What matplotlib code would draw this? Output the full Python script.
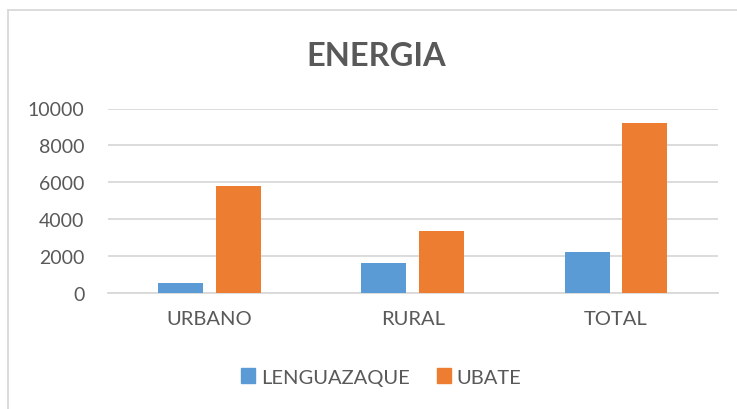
import matplotlib
matplotlib.use("Agg")
import matplotlib.pyplot as plt
from matplotlib.lines import Line2D
from matplotlib.patches import Patch
import numpy as np

plt.rcParams['font.family'] = ['Lato', 'DejaVu Sans']

categories = ['URBANO', 'RURAL', 'TOTAL']
lenguazaque = [550, 1640, 2240]
ubate = [5790, 3370, 9240]
yticks = [0, 2000, 4000, 6000, 8000, 10000]

text_color = '#595959'
grid_color = '#D9D9D9'
blue = '#5B9BD5'
orange = '#ED7D31'

fig = plt.figure(figsize=(7.37, 4.10), dpi=100)
ax = fig.add_axes([108 / 737, 1 - 294 / 410, (717.5 - 108) / 737, (294 - 109.5) / 410])

x = np.arange(len(categories))
width = 0.222
ax.bar(x - 0.142, lenguazaque, width, color=blue, zorder=3)
ax.bar(x + 0.142, ubate, width, color=orange, zorder=3)

ax.set_xlim(-0.5, 2.5)
ax.set_ylim(0, 10000)
ax.set_yticks(yticks)
ax.set_yticklabels([str(v) for v in yticks])
ax.set_xticks(x)
ax.set_xticklabels(categories)
ax.tick_params(axis='both', length=0, colors=text_color)
ax.tick_params(axis='y', pad=17, labelsize=14)
ax.tick_params(axis='x', pad=12, labelsize=14.5)

ax.grid(axis='y', color=grid_color, linewidth=1.3, zorder=0)
for s in ['top', 'right', 'left']:
    ax.spines[s].set_visible(False)
ax.spines['bottom'].set_color(grid_color)
ax.spines['bottom'].set_linewidth(1.3)

# title
fig.text(376.5 / 737, 1 - 66 / 410, 'ENERGIA', ha='center', va='baseline',
         fontsize=23.5, fontweight='bold', color=text_color)

# legend
handles = [Patch(color=blue, label='LENGUAZAQUE'), Patch(color=orange, label='UBATE')]
fig.legend(handles=handles, loc='center', bbox_to_anchor=(381 / 737, 1 - 378 / 410),
           ncol=2, frameon=False, fontsize=14.5, labelcolor=text_color,
           handlelength=0.7, handleheight=0.7, handletextpad=0.3,
           columnspacing=1.35)

# chart area border (left and top visible)
bx = 8 / 737
by = 1 - 11 / 410
fig.add_artist(Line2D([bx, bx], [0, by], color=grid_color, linewidth=1.3, transform=fig.transFigure))
fig.add_artist(Line2D([bx, 1.0], [by, by], color=grid_color, linewidth=1.3, transform=fig.transFigure))

fig.savefig('out.png', dpi=100)
